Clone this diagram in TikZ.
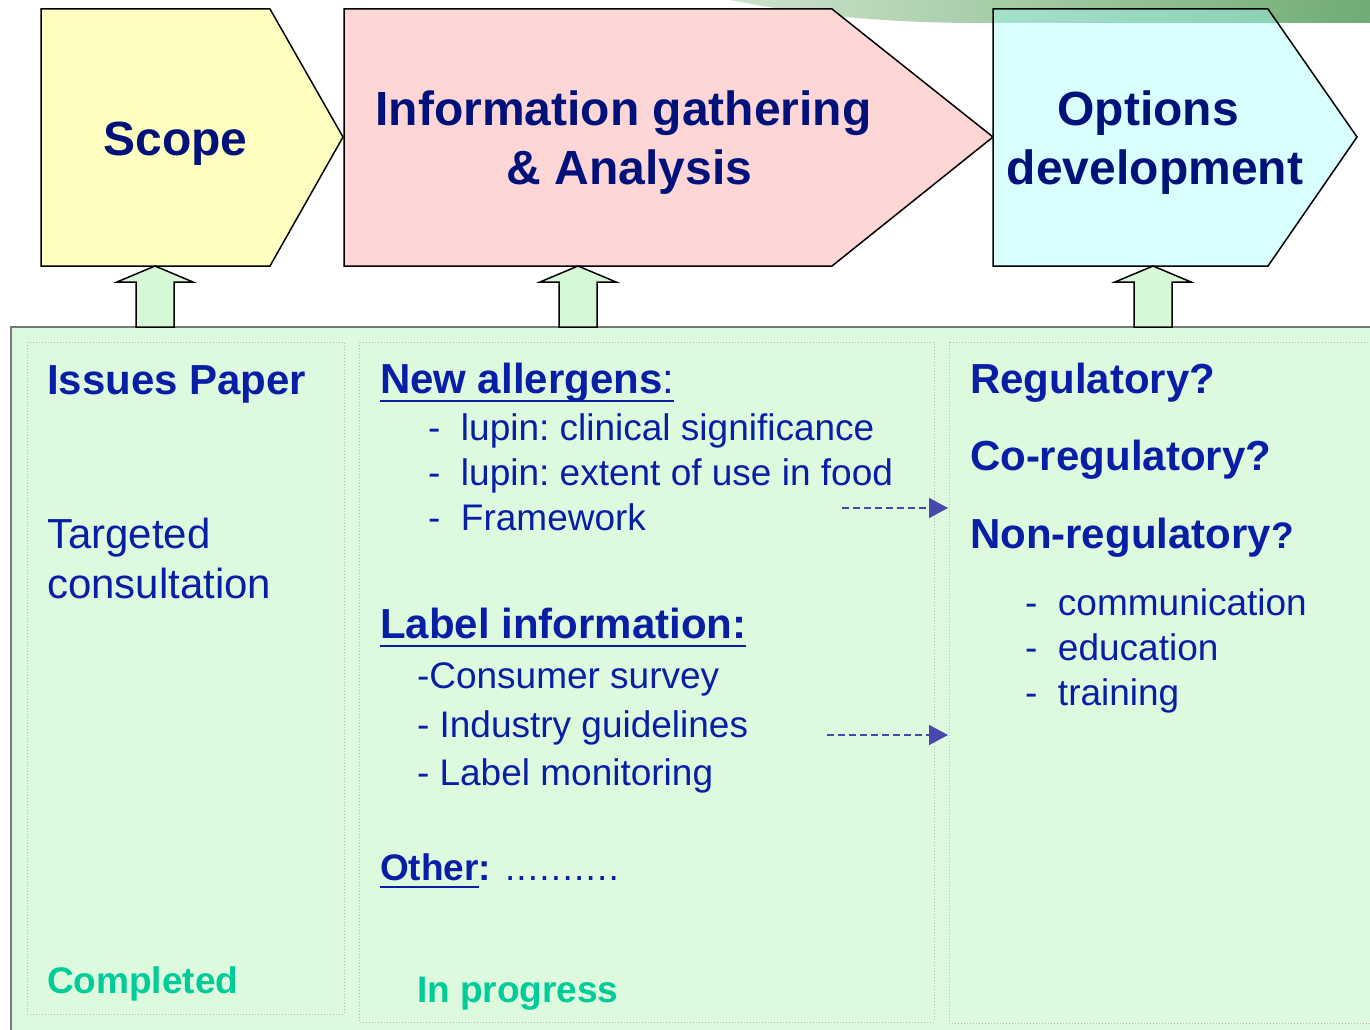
\documentclass[tikz,border=0pt]{standalone}
\usepackage{fontspec}
\setmainfont{Liberation Sans}
\usetikzlibrary{arrows.meta}
\frenchspacing
\definecolor{titleblue}{RGB}{0,18,122}
\definecolor{bodyblue}{RGB}{8,30,165}
\definecolor{tealG}{RGB}{0,204,153}
\definecolor{arrowblue}{RGB}{72,72,172}
\definecolor{panelG}{RGB}{222,250,222}
\definecolor{panelB}{RGB}{120,120,120}
\definecolor{dotG}{RGB}{185,185,185}
\definecolor{scopeY}{RGB}{255,255,192}
\definecolor{infoP}{RGB}{255,214,214}
\definecolor{optC}{RGB}{160,255,255}
\definecolor{blockG}{RGB}{215,248,215}
\definecolor{swA}{RGB}{205,228,205}
\definecolor{swB}{RGB}{112,172,115}
\begin{document}
\begin{tikzpicture}[x=1pt,y=-1pt,
  stage/.style={draw=black, line width=1.5pt, line join=miter},
  panel/.style={draw=panelB, line width=2pt, fill=panelG},
  dotbox/.style={draw=dotG, line width=1pt, dotted},
  blockarrow/.style={draw=black, line width=1.5pt, fill=blockG, line join=miter},
  dasharrow/.style={draw=arrowblue, line width=1.5pt, dash pattern=on 7pt off 4pt,
     -{Triangle[length=19pt,width=20pt,fill=arrowblue]}},
  ulstyle/.style={draw=bodyblue, line width=2.5pt},
  txt/.style={inner sep=0pt, outer sep=0pt, anchor=base west},
  big/.style={inner sep=0pt, outer sep=0pt, anchor=base, font=\fontsize{48}{58}\selectfont\bfseries, text=titleblue},
  hd/.style={txt, font=\fontsize{42}{50}\selectfont\bfseries, text=bodyblue},
  rg/.style={txt, font=\fontsize{42}{50}\selectfont, text=bodyblue},
  itm/.style={txt, font=\fontsize{37}{45}\selectfont, text=bodyblue},
  sub/.style={txt, font=\fontsize{37}{45}\selectfont\bfseries, text=bodyblue},
  stat/.style={txt, font=\fontsize{37}{45}\selectfont\bfseries, text=tealG}]
\useasboundingbox (0,0) rectangle (1370,1030);
\clip (0,0) rectangle (1370,1030);
\fill[white] (0,0) rectangle (1370,1030);

% background swoosh
\shade[left color=swA, right color=swB] (730,0) .. controls (800,14) and (880,23) .. (980,23) -- (1370,23) -- (1370,0) -- cycle;

% stage pentagons
\filldraw[stage, fill=scopeY] (41,9) -- (270,9) -- (343,137) -- (270,266) -- (41,266) -- cycle;
\filldraw[stage, fill=infoP] (344,9) -- (832,9) -- (993,137) -- (832,266) -- (344,266) -- cycle;
\filldraw[stage, fill=optC, fill opacity=0.4] (993,9) -- (1268,9) -- (1357,137) -- (1268,266) -- (993,266) -- cycle;

\node[big] (scopeT) at (175.5,155) {Scope};
\node[big] (infoT1) at (623.5,126) {Information gathering};
\node[big] (infoT2) at (629.5,184) {\& Analysis};
\node[big] (optT1) at (1148,126) {Options};
\node[big] (optT2) at (1155,184) {development};

% panel
\filldraw[panel] (11,327) rectangle (1400,1060);

% block arrows
\foreach \t in {155,578,1153} {
  \filldraw[blockarrow] (\t-38,282) -- (\t,266) -- (\t+38,282) -- (\t+19,282) -- (\t+19,327) -- (\t-19,327) -- (\t-19,282) -- cycle;
}

% dotted columns
\draw[dotbox] (27,342) rectangle (344,1014);
\draw[dotbox] (359,342) rectangle (934,1022);
\draw[dotbox] (949,342) rectangle (1400,1023);

% column 1
\node[hd] (issues) at (47,394) {Issues Paper};
\node[rg] (targ1) at (47,548) {Targeted};
\node[rg] (targ2) at (47,598) {consultation};
\node[stat] (done) at (47,993) {Completed};

% column 2
\node[hd] (newal) at (380,393) {New allergens\mdseries:};
\draw[ulstyle] ([yshift=-8pt]newal.base west) -- ([yshift=-8pt]newal.base east);
\node[itm] (na1) at (428,440) {\makebox[33pt][l]{-}lupin: clinical significance};
\node[itm] (na2) at (428,485) {\makebox[33pt][l]{-}lupin: extent of use in food};
\node[itm] (na3) at (428,530) {\makebox[33pt][l]{-}Framework};

\node[hd] (labinf) at (380,638) {Label information:};
\draw[ulstyle] ([yshift=-8pt]labinf.base west) -- ([yshift=-8pt]labinf.base east);
\node[itm] (li1) at (417,688) {-Consumer survey};
\node[itm] (li2) at (417,737) {- Industry guidelines};
\node[itm] (li3) at (417,785) {- Label monitoring};

\node[sub] (other) at (380,880) {Other};
\draw[ulstyle] ([yshift=-7pt]other.base west) -- ([yshift=-7pt]other.base east);
\node[sub] (otherdots) at (other.base east) {:\mdseries\hspace{14pt}\foreach \k in {1,...,10}{\makebox[11.5pt][l]{.}}};
\node[stat] (prog) at (417,1002) {In progress};

% column 3
\node[hd] (reg) at (970,393) {Regulatory?};
\node[hd] (coreg) at (970,470) {Co-regulatory?};
\node[hd] (nonreg) at (970,548) {Non-regulatory{\fontsize{37}{45}\selectfont ?}};
\node[itm] (o1) at (1025,615) {\makebox[33pt][l]{-}communication};
\node[itm] (o2) at (1025,660) {\makebox[33pt][l]{-}education};
\node[itm] (o3) at (1025,705) {\makebox[33pt][l]{-}training};

% dashed connectors
\coordinate (a1s) at (842,508);
\coordinate (a1e) at (948,508);
\coordinate (a2s) at (827,735);
\coordinate (a2e) at (948,735);
\draw[dasharrow] (a1s) -- (a1e);
\draw[dasharrow] (a2s) -- (a2e);
\end{tikzpicture}
\end{document}
